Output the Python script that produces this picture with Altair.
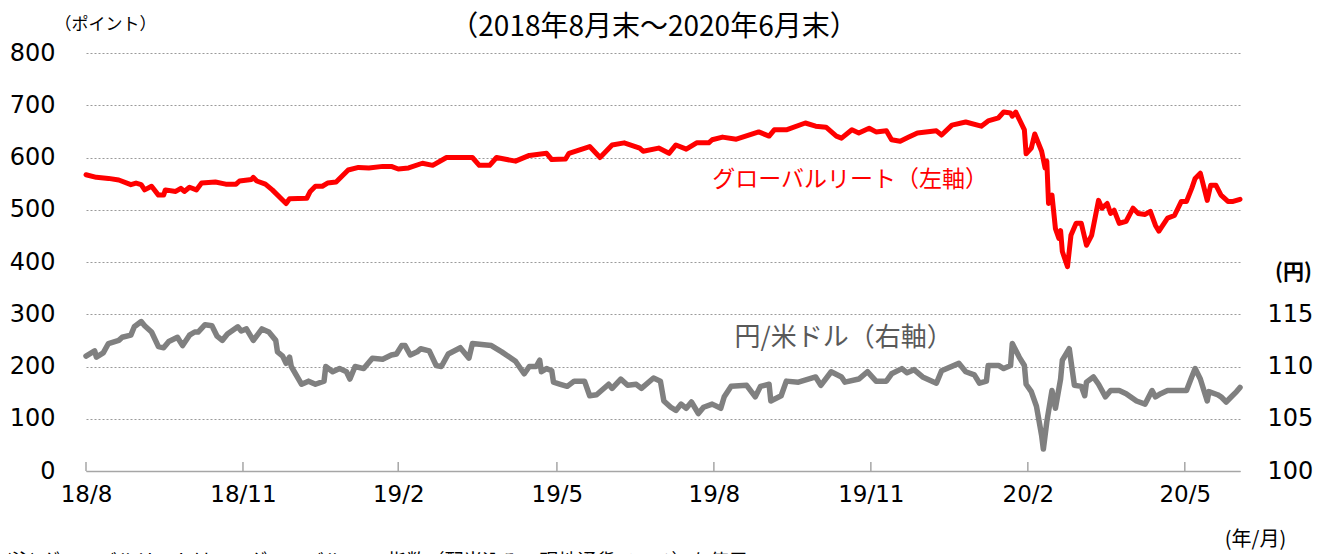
import altair as alt
import pandas as pd

# ---- data ----
reit_dates = [
    "2018-08-31", "2018-09-06", "2018-09-13", "2018-09-19", "2018-09-26", "2018-09-29",
    "2018-10-02", "2018-10-04", "2018-10-08", "2018-10-12", "2018-10-15", "2018-10-16",
    "2018-10-22", "2018-10-25", "2018-10-27", "2018-10-30", "2018-11-03", "2018-11-06",
    "2018-11-14", "2018-11-20", "2018-11-26", "2018-11-28", "2018-12-05", "2018-12-06",
    "2018-12-08", "2018-12-13", "2018-12-17", "2018-12-25", "2018-12-27", "2019-01-06",
    "2019-01-08", "2019-01-11", "2019-01-15", "2019-01-18", "2019-01-23", "2019-01-30",
    "2019-02-05", "2019-02-11", "2019-02-19", "2019-02-24", "2019-02-28", "2019-03-06",
    "2019-03-14", "2019-03-20", "2019-03-28", "2019-04-12", "2019-04-16", "2019-04-22",
    "2019-04-26", "2019-05-07", "2019-05-15", "2019-05-25", "2019-05-28", "2019-06-05",
    "2019-06-07", "2019-06-19", "2019-06-25", "2019-07-02", "2019-07-09", "2019-07-18",
    "2019-07-20", "2019-07-29", "2019-08-04", "2019-08-08", "2019-08-14", "2019-08-20",
    "2019-08-27", "2019-08-29", "2019-09-04", "2019-09-12", "2019-09-25", "2019-10-01",
    "2019-10-04", "2019-10-11", "2019-10-22", "2019-10-28", "2019-11-03", "2019-11-09",
    "2019-11-12", "2019-11-18", "2019-11-22", "2019-11-28", "2019-12-02", "2019-12-08",
    "2019-12-11", "2019-12-16", "2019-12-21", "2019-12-26", "2020-01-06", "2020-01-09",
    "2020-01-15", "2020-01-23", "2020-02-01", "2020-02-05", "2020-02-11", "2020-02-14",
    "2020-02-18", "2020-02-19", "2020-02-21", "2020-02-26", "2020-02-27", "2020-03-01",
    "2020-03-03", "2020-03-07", "2020-03-09", "2020-03-10", "2020-03-11", "2020-03-13",
    "2020-03-15", "2020-03-17", "2020-03-18", "2020-03-19", "2020-03-22", "2020-03-24",
    "2020-03-27", "2020-03-30", "2020-04-02", "2020-04-05", "2020-04-09", "2020-04-11",
    "2020-04-14", "2020-04-16", "2020-04-18", "2020-04-21", "2020-04-25", "2020-04-29",
    "2020-05-02", "2020-05-06", "2020-05-09", "2020-05-12", "2020-05-14", "2020-05-19",
    "2020-05-23", "2020-05-27", "2020-05-30", "2020-06-02", "2020-06-04", "2020-06-07",
    "2020-06-11", "2020-06-13", "2020-06-16", "2020-06-19", "2020-06-23", "2020-06-26",
    "2020-06-30",
]
reit_values = [
    567, 562, 560, 557, 548, 551,
    548, 538, 545, 528, 528, 538,
    535, 541, 535, 543, 538, 551,
    553, 549, 549, 555, 558, 562,
    555, 549, 538, 512, 521, 522,
    535, 545, 545, 551, 553, 576,
    581, 580, 583, 583, 578, 580,
    589, 585, 600, 600, 585, 585,
    600, 593, 604, 608, 596, 597,
    608, 621, 600, 624, 628, 618,
    612, 618, 608, 624, 616, 628,
    628, 634, 639, 635, 649, 641,
    653, 653, 666, 660, 658, 641,
    637, 653, 647, 656, 649, 651,
    634, 631, 639, 647, 651, 643,
    662, 668, 660, 670, 676, 687,
    685, 679, 687, 653, 607, 618,
    645, 612, 580, 593, 512, 528,
    464, 445, 460, 420, 391, 451,
    474, 474, 432, 451, 518, 503,
    512, 493, 499, 474, 478, 503,
    493, 491, 497, 470, 459, 484,
    489, 516, 516, 541, 560, 570,
    518, 547, 547, 528, 516, 516,
    520,
]

usdjpy_dates = [
    "2018-08-31", "2018-09-05", "2018-09-06", "2018-09-10", "2018-09-13", "2018-09-19",
    "2018-09-21", "2018-09-26", "2018-09-28", "2018-10-02", "2018-10-04", "2018-10-08",
    "2018-10-12", "2018-10-15", "2018-10-18", "2018-10-23", "2018-10-26", "2018-10-30",
    "2018-11-02", "2018-11-04", "2018-11-08", "2018-11-12", "2018-11-15", "2018-11-18",
    "2018-11-21", "2018-11-27", "2018-11-29", "2018-12-02", "2018-12-06", "2018-12-11",
    "2018-12-15", "2018-12-19", "2018-12-20", "2018-12-23", "2018-12-25", "2018-12-27",
    "2018-12-28", "2019-01-03", "2019-01-07", "2019-01-11", "2019-01-16", "2019-01-17",
    "2019-01-21", "2019-01-25", "2019-01-29", "2019-01-31", "2019-02-03", "2019-02-08",
    "2019-02-13", "2019-02-19", "2019-02-24", "2019-02-27", "2019-03-02", "2019-03-04",
    "2019-03-07", "2019-03-11", "2019-03-13", "2019-03-18", "2019-03-22", "2019-03-25",
    "2019-03-29", "2019-04-05", "2019-04-10", "2019-04-12", "2019-04-23", "2019-04-29",
    "2019-05-07", "2019-05-12", "2019-05-15", "2019-05-19", "2019-05-21", "2019-05-22",
    "2019-05-25", "2019-05-28", "2019-05-29", "2019-06-02", "2019-06-06", "2019-06-10",
    "2019-06-16", "2019-06-19", "2019-06-23", "2019-06-30", "2019-07-02", "2019-07-07",
    "2019-07-11", "2019-07-16", "2019-07-19", "2019-07-26", "2019-07-30", "2019-08-01",
    "2019-08-05", "2019-08-08", "2019-08-11", "2019-08-14", "2019-08-17", "2019-08-21",
    "2019-08-24", "2019-08-29", "2019-09-03", "2019-09-05", "2019-09-09", "2019-09-18",
    "2019-09-23", "2019-09-26", "2019-10-01", "2019-10-02", "2019-10-08", "2019-10-11",
    "2019-10-18", "2019-10-28", "2019-10-31", "2019-11-06", "2019-11-12", "2019-11-14",
    "2019-11-22", "2019-11-27", "2019-12-02", "2019-12-08", "2019-12-11", "2019-12-17",
    "2019-12-20", "2019-12-24", "2019-12-29", "2020-01-06", "2020-01-09", "2020-01-19",
    "2020-01-23", "2020-01-28", "2020-01-31", "2020-02-04", "2020-02-05", "2020-02-11",
    "2020-02-14", "2020-02-18", "2020-02-19", "2020-02-23", "2020-02-26", "2020-02-27",
    "2020-03-01", "2020-03-04", "2020-03-07", "2020-03-08", "2020-03-10", "2020-03-13",
    "2020-03-15", "2020-03-18", "2020-03-19", "2020-03-23", "2020-03-26", "2020-03-30",
    "2020-04-01", "2020-04-02", "2020-04-06", "2020-04-09", "2020-04-13", "2020-04-16",
    "2020-04-21", "2020-04-25", "2020-05-01", "2020-05-06", "2020-05-10", "2020-05-12",
    "2020-05-15", "2020-05-19", "2020-05-30", "2020-06-02", "2020-06-04", "2020-06-07",
    "2020-06-11", "2020-06-12", "2020-06-17", "2020-06-19", "2020-06-22", "2020-06-25",
    "2020-06-28", "2020-06-30",
]
usdjpy_values = [
    111.0, 111.5, 110.9, 111.3, 112.2, 112.5,
    112.8, 113.0, 113.8, 114.3, 113.9, 113.3,
    111.9, 111.8, 112.4, 112.8, 112.0, 113.0,
    113.3, 113.3, 114.0, 113.9, 112.9, 112.5,
    113.1, 113.8, 113.4, 113.6, 112.5, 113.6,
    113.3, 112.5, 111.4, 111.0, 110.3, 110.9,
    110.0, 108.3, 108.6, 108.3, 108.6, 110.0,
    109.5, 109.8, 109.5, 108.8, 110.0, 109.8,
    110.8, 110.7, 111.1, 111.2, 112.0, 112.0,
    111.1, 111.4, 111.7, 111.5, 110.1, 110.0,
    111.2, 111.8, 110.8, 112.2, 112.0, 111.4,
    110.5, 109.3, 110.0, 110.0, 110.6, 109.5,
    109.8, 109.6, 108.5, 108.3, 108.1, 108.6,
    108.6, 107.2, 107.3, 108.3, 107.9, 108.8,
    108.2, 108.3, 107.9, 108.9, 108.6, 106.7,
    106.1, 105.8, 106.4, 106.0, 106.6, 105.5,
    106.1, 106.4, 106.0, 107.1, 108.1, 108.2,
    107.1, 108.1, 108.3, 106.7, 107.2, 108.6,
    108.5, 109.0, 108.2, 109.5, 109.0, 108.5,
    108.8, 109.5, 108.6, 108.6, 109.3, 109.8,
    109.4, 109.7, 109.0, 108.4, 109.6, 110.3,
    109.5, 109.2, 108.4, 108.6, 110.1, 110.1,
    109.8, 110.1, 112.2, 110.9, 110.1, 108.3,
    107.6, 106.2, 103.4, 102.1, 104.7, 107.7,
    106.0, 108.8, 110.6, 111.7, 108.2, 108.1,
    107.2, 108.5, 109.0, 108.3, 107.1, 107.7,
    107.7, 107.4, 106.7, 106.4, 107.7, 107.1,
    107.4, 107.7, 107.7, 109.0, 109.8, 108.8,
    106.7, 107.6, 107.3, 107.1, 106.6, 107.1,
    107.6, 108.0,
]

x_start, x_end = "2018-08-31", "2020-06-30"
tick_dates = ["2018-08-31", "2018-11-30", "2019-02-28", "2019-05-31",
              "2019-08-30", "2019-11-29", "2020-02-28", "2020-05-29"]
left_ticks = [0, 100, 200, 300, 400, 500, 600, 700, 800]
right_ticks = [100, 105, 110, 115]

title_text = "（2018年8月末～2020年6月末）"
reit_label = "グローバルリート（左軸）"
fx_label = "円/米ドル（右軸）"
note_text = "(注) グローバルリートはS&Pグローバル REIT指数（配当込み、現地通貨ベース）を使用"

reit_df = pd.DataFrame({"date": reit_dates, "value": reit_values})
fx_df = pd.DataFrame({"date": usdjpy_dates, "value": usdjpy_values})
tick_df = pd.DataFrame({"date": tick_dates})
reit_lab_df = pd.DataFrame({"date": ["2019-08-29"], "value": [557], "t": [reit_label]})
fx_lab_df = pd.DataFrame({"date": ["2019-09-11"], "value": [112.7], "t": [fx_label]})
note_df = pd.DataFrame({"t": [note_text]})
title_df = pd.DataFrame({"t": [title_text]})

W, H = 1154, 418
NUM_FONT = "DejaVu Sans"
JP_FONT = "Noto Sans CJK JP"


def dt(s):
    y, m, d = (int(p) for p in s.split("-"))
    return alt.DateTime(year=y, month=m, date=d, utc=True)


x_enc = alt.X(
    "date:T",
    scale=alt.Scale(type="utc", domain=[dt(x_start), dt(x_end)], nice=False),
    axis=alt.Axis(
        values=[dt(s) for s in tick_dates],
        labelExpr="utcFormat(datum.value, '%y') + '/' + (utcmonth(datum.value) + 1)",
        labelFlush=False, labelOverlap=False,
        grid=False, ticks=False, domain=True, domainColor="#a6a6a6", domainWidth=1.5,
        labelFont=NUM_FONT, labelFontSize=23, labelColor="black", labelPadding=12,
        title="(年/月)", titleFont=JP_FONT, titleFontSize=20, titleFontWeight="normal",
        titleColor="black", titleX=1169, titleY=68, titleAlign="center",
        titleBaseline="middle", titleAngle=0,
    ),
)

y_left = alt.Y(
    "value:Q",
    scale=alt.Scale(domain=[0, 800], nice=False),
    axis=alt.Axis(
        values=left_ticks, grid=True, gridDash=[2, 2], gridColor="#9a9a9a", gridWidth=1,
        domain=False, ticks=False, labelFont=NUM_FONT, labelFontSize=24,
        labelColor="black", labelPadding=31,
        title="（ポイント）", titleFont=JP_FONT, titleFontSize=17, titleFontWeight="normal",
        titleColor="black", titleAngle=0, titleAlign="left", titleBaseline="alphabetic",
        titleX=-32, titleY=-24,
    ),
)

y_right = alt.Y(
    "value:Q",
    scale=alt.Scale(domain=[100, 140], nice=False),
    axis=alt.Axis(
        orient="right", values=right_ticks, grid=False, domain=False, ticks=False,
        labelFont=NUM_FONT, labelFontSize=24, labelColor="black", labelPadding=27,
        title="(円)", titleFont=JP_FONT, titleFontSize=21, titleFontWeight="bold",
        titleColor="black", titleAngle=0, titleAlign="center", titleBaseline="middle",
        titleX=53, titleY=219,
    ),
)

reit_line = alt.Chart(reit_df).mark_line(
    color="#ff0000", strokeWidth=5, strokeJoin="round", strokeCap="round"
).encode(x=x_enc, y=y_left)

reit_text = alt.Chart(reit_lab_df).mark_text(
    font=JP_FONT, fontSize=23, color="#ff0000", align="left", baseline="middle"
).encode(x=x_enc, y=y_left, text="t:N")

x_ticks = alt.Chart(tick_df).mark_rule(color="#a6a6a6", strokeWidth=1.5).encode(
    x=x_enc, y=alt.value(H), y2=alt.value(H - 9)
)

note = alt.Chart(note_df).mark_text(
    font=JP_FONT, fontSize=19, color="black", align="left", baseline="middle"
).encode(text="t:N", x=alt.value(-81), y=alt.value(H + 91))

title = alt.Chart(title_df).mark_text(
    font=JP_FONT, fontSize=28, color="black", align="center", baseline="middle"
).encode(text="t:N", x=alt.value(568), y=alt.value(-25))

fx_line = alt.Chart(fx_df).mark_line(
    color="#808080", strokeWidth=5.5, strokeJoin="round", strokeCap="round"
).encode(x=x_enc, y=y_right)

fx_text = alt.Chart(fx_lab_df).mark_text(
    font=JP_FONT, fontSize=26, color="#595959", align="left", baseline="middle"
).encode(x=x_enc, y=y_right, text="t:N")

left = alt.layer(reit_line, reit_text, x_ticks, note, title)
right = alt.layer(fx_line, fx_text)

chart = (
    alt.layer(left, right)
    .resolve_scale(y="independent")
    .properties(
        width=W,
        height=H,
        autosize=alt.AutoSizeParams(type="none"),
        padding={"left": 78, "top": 45, "right": 78, "bottom": 110},
        background="white",
    )
    .configure_view(stroke=None)
)

chart.save("out.html", embed_options={"renderer": "svg", "actions": False})
